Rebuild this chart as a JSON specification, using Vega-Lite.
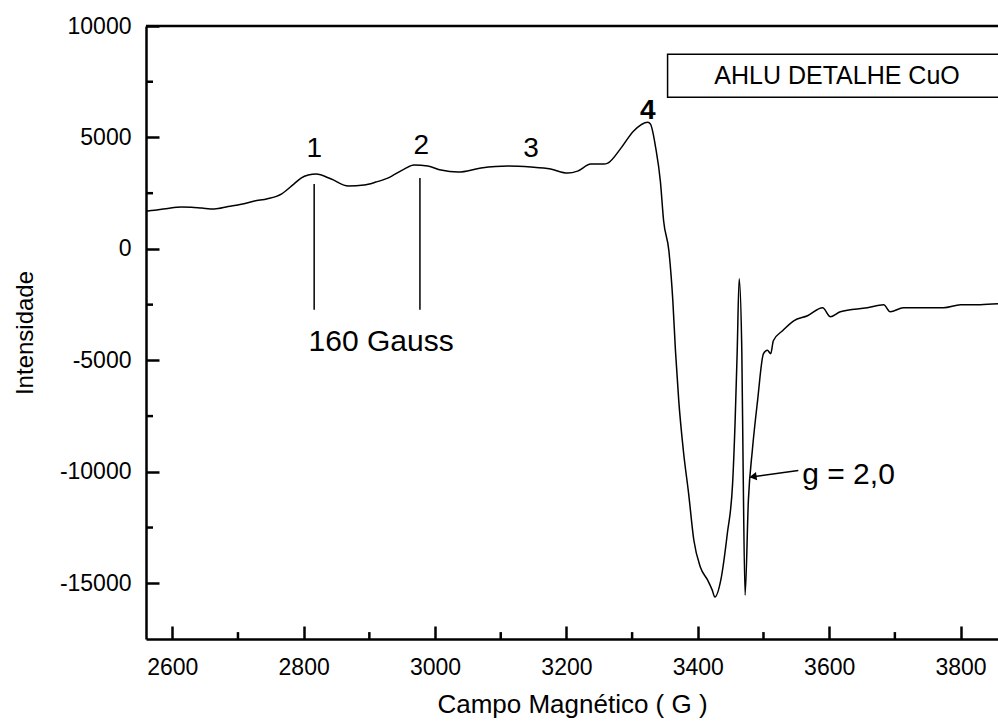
{
  "$schema": "https://vega.github.io/schema/vega-lite/v6.json",
  "width": 852,
  "height": 613,
  "autosize": {"type": "none"},
  "padding": {"left": 146, "top": 26, "right": 0, "bottom": 86},
  "background": "white",
  "data": {"values": [{}]},
  "config": {
    "view": {"stroke": null},
    "font": "Liberation Sans",
    "text": {"font": "Liberation Sans", "color": "black"}
  },
  "layer": [
    {
      "data": {
        "values": [
          {"field": 2561, "intensity": 1700},
          {"field": 2568, "intensity": 1720},
          {"field": 2590, "intensity": 1800},
          {"field": 2614, "intensity": 1880},
          {"field": 2629, "intensity": 1870},
          {"field": 2645, "intensity": 1830},
          {"field": 2664, "intensity": 1790},
          {"field": 2685, "intensity": 1900},
          {"field": 2705, "intensity": 2000},
          {"field": 2725, "intensity": 2148},
          {"field": 2745, "intensity": 2250},
          {"field": 2766, "intensity": 2462},
          {"field": 2785, "intensity": 2909},
          {"field": 2796, "intensity": 3178},
          {"field": 2807, "intensity": 3312},
          {"field": 2819, "intensity": 3357},
          {"field": 2842, "intensity": 3133},
          {"field": 2868, "intensity": 2820},
          {"field": 2892, "intensity": 2865},
          {"field": 2910, "intensity": 3000},
          {"field": 2928, "intensity": 3178},
          {"field": 2953, "intensity": 3581},
          {"field": 2968, "intensity": 3760},
          {"field": 2989, "intensity": 3715},
          {"field": 3009, "intensity": 3536},
          {"field": 3035, "intensity": 3447},
          {"field": 3070, "intensity": 3626},
          {"field": 3111, "intensity": 3715},
          {"field": 3146, "intensity": 3670},
          {"field": 3176, "intensity": 3581},
          {"field": 3202, "intensity": 3402},
          {"field": 3217, "intensity": 3491},
          {"field": 3237, "intensity": 3805},
          {"field": 3257, "intensity": 3805},
          {"field": 3263, "intensity": 3849},
          {"field": 3283, "intensity": 4521},
          {"field": 3302, "intensity": 5282},
          {"field": 3324, "intensity": 5685},
          {"field": 3328, "intensity": 5595},
          {"field": 3336, "intensity": 4521},
          {"field": 3343, "intensity": 3044},
          {"field": 3348, "intensity": 1253},
          {"field": 3356, "intensity": -90},
          {"field": 3362, "intensity": -2328},
          {"field": 3366, "intensity": -4566},
          {"field": 3371, "intensity": -6804},
          {"field": 3378, "intensity": -9042},
          {"field": 3386, "intensity": -10966},
          {"field": 3394, "intensity": -13070},
          {"field": 3404, "intensity": -14278},
          {"field": 3415, "intensity": -14860},
          {"field": 3422, "intensity": -15308},
          {"field": 3426, "intensity": -15621},
          {"field": 3435, "intensity": -14860},
          {"field": 3445, "intensity": -12757},
          {"field": 3453, "intensity": -10519},
          {"field": 3457, "intensity": -7564},
          {"field": 3460, "intensity": -4566},
          {"field": 3463, "intensity": -1343},
          {"field": 3467, "intensity": -4566},
          {"field": 3469, "intensity": -9803},
          {"field": 3472, "intensity": -15532},
          {"field": 3477, "intensity": -11280},
          {"field": 3483, "intensity": -9042},
          {"field": 3491, "intensity": -6804},
          {"field": 3500, "intensity": -4700},
          {"field": 3506, "intensity": -4550},
          {"field": 3511, "intensity": -4700},
          {"field": 3515, "intensity": -4118},
          {"field": 3529, "intensity": -3670},
          {"field": 3546, "intensity": -3223},
          {"field": 3567, "intensity": -2999},
          {"field": 3590, "intensity": -2641},
          {"field": 3602, "intensity": -3044},
          {"field": 3617, "intensity": -2820},
          {"field": 3658, "intensity": -2641},
          {"field": 3683, "intensity": -2507},
          {"field": 3693, "intensity": -2820},
          {"field": 3713, "intensity": -2641},
          {"field": 3749, "intensity": -2641},
          {"field": 3774, "intensity": -2641},
          {"field": 3800, "intensity": -2507},
          {"field": 3830, "intensity": -2500},
          {"field": 3857, "intensity": -2462}
        ]
      },
      "mark": {"type": "line", "color": "black", "strokeWidth": 1.5, "clip": true, "interpolate": "monotone"},
      "encoding": {
        "x": {
          "field": "field",
          "type": "quantitative",
          "scale": {"domain": [2560, 3857], "zero": false, "nice": false},
          "axis": {
            "title": "Campo Magnético ( G )",
            "titleFont": "Liberation Sans",
            "titleFontSize": 26,
            "titleFontWeight": "normal",
            "titleColor": "black",
            "titlePadding": 12,
            "values": [2600, 2800, 3000, 3200, 3400, 3600, 3800],
            "labelExpr": "'' + datum.value",
            "labelFont": "Liberation Sans",
            "labelFontSize": 23,
            "labelColor": "black",
            "labelPadding": 30,
            "labelFlush": false,
            "labelOverlap": false,
            "labelBound": false,
            "tickSize": -13,
            "tickWidth": 2.5,
            "tickColor": "black",
            "domainColor": "black",
            "domainWidth": 2.5,
            "grid": false
          }
        },
        "y": {
          "field": "intensity",
          "type": "quantitative",
          "scale": {"domain": [-17500, 10000], "zero": false, "nice": false},
          "axis": {
            "title": "Intensidade",
            "titleFont": "Liberation Sans",
            "titleFontSize": 24,
            "titleFontWeight": "normal",
            "titleColor": "black",
            "titlePadding": 22,
            "values": [-15000, -10000, -5000, 0, 5000, 10000],
            "labelExpr": "'' + datum.value",
            "labelFont": "Liberation Sans",
            "labelFontSize": 23,
            "labelColor": "black",
            "labelPadding": 28,
            "labelFlush": false,
            "labelOverlap": false,
            "labelBound": false,
            "tickSize": -13,
            "tickWidth": 2.5,
            "tickColor": "black",
            "domainColor": "black",
            "domainWidth": 2.5,
            "grid": false
          }
        }
      }
    },
    {
      "data": {"values": [{"minor": 2700}, {"minor": 2900}, {"minor": 3100}, {"minor": 3300}, {"minor": 3500}, {"minor": 3700}]},
      "mark": {"type": "rule", "color": "black", "strokeWidth": 2.5},
      "encoding": {
        "x": {"field": "minor", "type": "quantitative"},
        "y": {"datum": -17500, "type": "quantitative"},
        "y2": {"datum": -17190}
      }
    },
    {
      "data": {"values": [{"minor": -12500}, {"minor": -7500}, {"minor": -2500}, {"minor": 2500}, {"minor": 7500}]},
      "mark": {"type": "rule", "color": "black", "strokeWidth": 2.5},
      "encoding": {
        "y": {"field": "minor", "type": "quantitative"},
        "x": {"datum": 2560, "type": "quantitative"},
        "x2": {"datum": 2570.7}
      }
    },
    {
      "mark": {"type": "rule", "color": "black", "strokeWidth": 2.5},
      "encoding": {"y": {"datum": 10000, "type": "quantitative"}}
    },
    {
      "mark": {"type": "rule", "color": "black", "strokeWidth": 1.5},
      "encoding": {
        "x": {"datum": 2816, "type": "quantitative"},
        "y": {"datum": 2910, "type": "quantitative"},
        "y2": {"datum": -2730}
      }
    },
    {
      "mark": {"type": "rule", "color": "black", "strokeWidth": 1.5},
      "encoding": {
        "x": {"datum": 2977, "type": "quantitative"},
        "y": {"datum": 3178, "type": "quantitative"},
        "y2": {"datum": -2730}
      }
    },
    {
      "mark": {"type": "rect", "fill": "white", "stroke": "black", "strokeWidth": 1.5, "clip": true},
      "encoding": {
        "x": {"datum": 3354, "type": "quantitative"},
        "x2": {"datum": 3880},
        "y": {"datum": 8728, "type": "quantitative"},
        "y2": {"datum": 6804}
      }
    },
    {
      "mark": {"type": "text", "text": "AHLU DETALHE CuO", "fontSize": 25, "align": "center", "baseline": "middle"},
      "encoding": {
        "x": {"datum": 3612, "type": "quantitative"},
        "y": {"datum": 7744, "type": "quantitative"}
      }
    },
    {
      "mark": {"type": "text", "text": "1", "fontSize": 28, "align": "center", "baseline": "middle"},
      "encoding": {
        "x": {"datum": 2816, "type": "quantitative"},
        "y": {"datum": 4476, "type": "quantitative"}
      }
    },
    {
      "mark": {"type": "text", "text": "2", "fontSize": 28, "align": "center", "baseline": "middle"},
      "encoding": {
        "x": {"datum": 2979, "type": "quantitative"},
        "y": {"datum": 4610, "type": "quantitative"}
      }
    },
    {
      "mark": {"type": "text", "text": "3", "fontSize": 28, "align": "center", "baseline": "middle"},
      "encoding": {
        "x": {"datum": 3146, "type": "quantitative"},
        "y": {"datum": 4476, "type": "quantitative"}
      }
    },
    {
      "mark": {"type": "text", "text": "4", "fontSize": 28, "fontWeight": "bold", "align": "center", "baseline": "middle"},
      "encoding": {
        "x": {"datum": 3324, "type": "quantitative"},
        "y": {"datum": 6177, "type": "quantitative"}
      }
    },
    {
      "mark": {"type": "text", "text": "160 Gauss", "fontSize": 30, "align": "center", "baseline": "middle"},
      "encoding": {
        "x": {"datum": 2918, "type": "quantitative"},
        "y": {"datum": -4163, "type": "quantitative"}
      }
    },
    {
      "mark": {"type": "text", "text": "g = 2,0", "fontSize": 30, "align": "left", "baseline": "middle"},
      "encoding": {
        "x": {"datum": 3559, "type": "quantitative"},
        "y": {"datum": -10161, "type": "quantitative"}
      }
    },
    {
      "mark": {"type": "rule", "color": "black", "strokeWidth": 1.5},
      "encoding": {
        "x": {"datum": 3553, "type": "quantitative"},
        "y": {"datum": -9937, "type": "quantitative"},
        "x2": {"datum": 3484},
        "y2": {"datum": -10220}
      }
    },
    {
      "mark": {"type": "point", "shape": "triangle-left", "filled": true, "color": "black", "size": 70, "angle": -8, "opacity": 1},
      "encoding": {
        "x": {"datum": 3484, "type": "quantitative"},
        "y": {"datum": -10220, "type": "quantitative"}
      }
    }
  ]
}
